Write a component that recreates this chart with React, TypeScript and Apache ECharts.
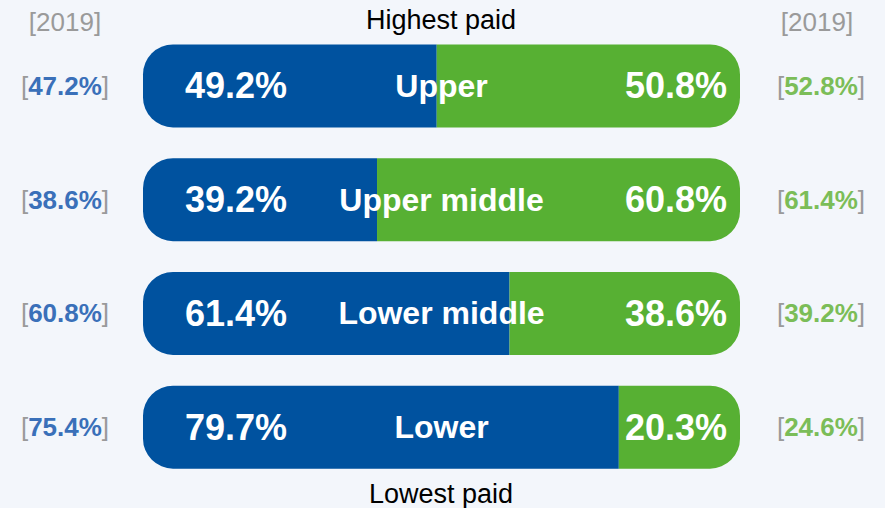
import React, { useEffect, useRef } from "react";
import * as echarts from "echarts";

const categories = ["Upper", "Upper middle", "Lower middle", "Lower"];
const blueShare = [49.2, 39.2, 61.4, 79.7];
const greenShare = [50.8, 60.8, 38.6, 20.3];
const blue2019 = [47.2, 38.6, 60.8, 75.4];
const green2019 = [52.8, 61.4, 39.2, 24.6];

const BLUE = "#00529f";
const GREEN = "#57b033";
const BLUE_TXT = "#3a70b9";
const GREEN_TXT = "#7bbd58";
const GREY = "#9a9a9a";
const FONT = "'Liberation Sans', Arial, sans-serif";

export default function App() {
  const ref = useRef<HTMLDivElement>(null);
  useEffect(() => {
    document.body.style.margin = "0";
    if (!ref.current) return;
    const chart = echarts.init(ref.current, null, { renderer: "svg" });
    const R = 30;
    chart.setOption({
      animation: false,
      backgroundColor: "#f3f6fb",
      textStyle: { fontFamily: FONT },
      grid: { left: 143, right: 145, top: 29, bottom: 24 },
      xAxis: { type: "value", min: 0, max: 100, show: false },
      yAxis: [
        {
          type: "category",
          data: categories,
          inverse: true,
          axisLine: { show: false },
          axisTick: { show: false },
          axisLabel: {
            margin: 78,
            align: "center",
            formatter: (_v: string, i: number) => `{b|[}{v|${blue2019[i].toFixed(1)}%}{b|]}`,
            rich: {
              b: { color: GREY, fontSize: 26, fontFamily: FONT },
              v: { color: BLUE_TXT, fontSize: 26, fontWeight: "bold", fontFamily: FONT },
            },
          },
        },
        {
          type: "category",
          data: categories,
          inverse: true,
          position: "right",
          axisLine: { show: false },
          axisTick: { show: false },
          axisLabel: {
            margin: 81,
            align: "center",
            formatter: (_v: string, i: number) => `{b|[}{v|${green2019[i].toFixed(1)}%}{b|]}`,
            rich: {
              b: { color: GREY, fontSize: 26, fontFamily: FONT },
              v: { color: GREEN_TXT, fontSize: 26, fontWeight: "bold", fontFamily: FONT },
            },
          },
        },
      ],
      series: [
        {
          type: "bar",
          stack: "s",
          barWidth: 83,
          data: blueShare,
          itemStyle: { color: BLUE, borderRadius: [R, 0, 0, R] },
          label: {
            show: true,
            position: "insideLeft",
            distance: 42,
            formatter: (p: any) => `${p.value.toFixed(1)}%`,
            color: "#fff",
            fontSize: 36,
            fontWeight: "bold",
            fontFamily: FONT,
          },
        },
        {
          type: "bar",
          stack: "s",
          barWidth: 83,
          data: greenShare,
          itemStyle: { color: GREEN, borderRadius: [0, R, R, 0] },
          label: {
            show: true,
            position: "insideRight",
            distance: 13,
            formatter: (p: any) => `${p.value.toFixed(1)}%`,
            color: "#fff",
            fontSize: 36,
            fontWeight: "bold",
            fontFamily: FONT,
          },
        },
        {
          type: "scatter",
          symbolSize: 1,
          itemStyle: { opacity: 0 },
          data: categories.map((_c, i) => [50, i]),
          label: {
            show: true,
            position: "inside",
            formatter: (p: any) => categories[p.dataIndex],
            color: "#ffffff",
            opacity: 1,
            fontSize: 32,
            fontWeight: "bold",
            fontFamily: FONT,
          },
          z: 5,
        },
      ],
      graphic: [
        {
          type: "text",
          x: 441,
          y: 20,
          style: { text: "Highest paid", fill: "#000", fontSize: 27, fontFamily: FONT, align: "center", verticalAlign: "middle" },
        },
        {
          type: "text",
          x: 441,
          y: 494,
          style: { text: "Lowest paid", fill: "#000", fontSize: 27, fontFamily: FONT, align: "center", verticalAlign: "middle" },
        },
        {
          type: "text",
          x: 65,
          y: 22,
          style: { text: "[2019]", fill: GREY, fontSize: 26, fontFamily: FONT, align: "center", verticalAlign: "middle" },
        },
        {
          type: "text",
          x: 817,
          y: 22,
          style: { text: "[2019]", fill: GREY, fontSize: 26, fontFamily: FONT, align: "center", verticalAlign: "middle" },
        },
      ],
    });
    return () => chart.dispose();
  }, []);
  return <div ref={ref} style={{ width: 885, height: 508 }} />;
}
